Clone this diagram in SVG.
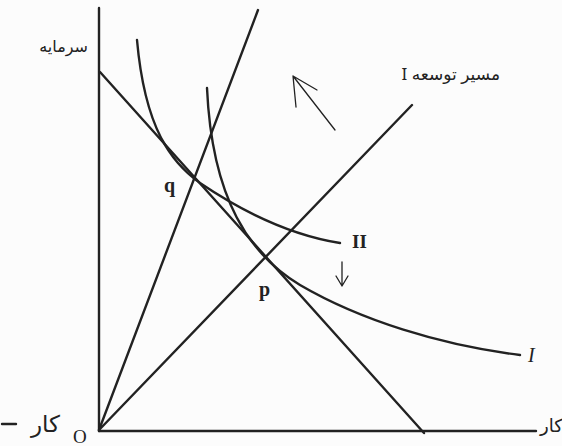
<svg xmlns="http://www.w3.org/2000/svg" width="562" height="446" viewBox="0 0 562 446">
<style>
.ln{fill:none;stroke:#222;stroke-width:2.4;stroke-linecap:round}
.th{fill:none;stroke:#222;stroke-width:1.3;stroke-linecap:round}
.fa{font-family:"Noto Sans","DejaVu Sans",sans-serif;fill:#222}
.lt{font-family:"Liberation Serif",serif;fill:#222}
</style>
<rect width="562" height="446" fill="#fcfcfc"/>
<g id="axes">
<line class="ln" x1="99" y1="8" x2="99" y2="431"/>
<line class="ln" x1="99" y1="431" x2="536" y2="431"/>
</g>
<g id="connectors">
<line id="budget" class="ln" x1="100" y1="72" x2="424" y2="433"/>
<line id="ray1" class="ln" x1="99" y1="430" x2="258" y2="10"/>
<line id="ray2" class="ln" x1="99" y1="430" x2="412" y2="105"/>
<path id="curveII" class="ln" d="M137,40 C145,130 172,163 200,183 C240,210 290,235 340,243"/>
<path id="curveI" class="ln" d="M207,88 C212,200 250,255 300,285 C360,320 440,345 520,355"/>
<path id="arrowUp" class="th" d="M335,130 L293,76 M293,76 L296,107 M293,76 L317,90"/>
<path id="arrowDown" class="th" d="M342,262 L342,286 M342,286 L336,276 M342,286 L348,276"/>
</g>
<g id="labels">
<text class="fa" x="88" y="52" font-size="16" text-anchor="start" direction="rtl">سرمایه</text>
<text class="fa" x="500" y="80" font-size="17" text-anchor="start" direction="rtl">مسیر توسعه I</text>
<text class="lt" x="352" y="248" font-size="19" font-weight="bold">II</text>
<text class="lt" x="528" y="362" font-size="20" font-style="italic">I</text>
<text class="lt" x="164" y="192" font-size="20" font-weight="bold">q</text>
<text class="lt" x="259" y="296" font-size="20" font-weight="bold">p</text>
<text class="lt" x="73" y="443" font-size="19">O</text>
<line class="ln" x1="2" y1="424" x2="16" y2="424"/>
<text class="fa" x="60" y="432" font-size="23" text-anchor="start" direction="rtl">کار</text>
<text class="fa" x="540" y="432" font-size="18">کار</text>
</g>
</svg>
